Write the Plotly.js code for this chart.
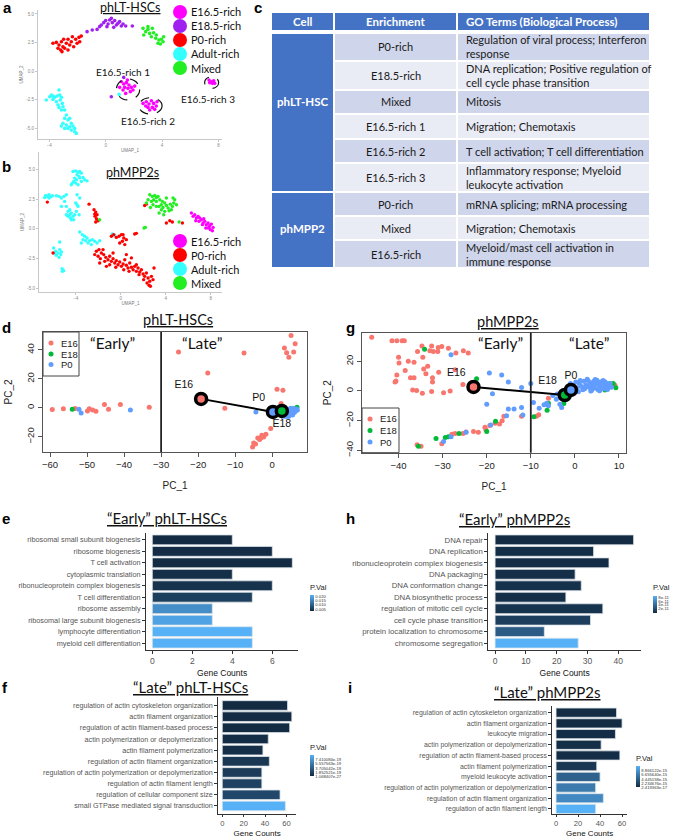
<!DOCTYPE html>
<html>
<head>
<meta charset="utf-8">
<script src="https://cdn.plot.ly/plotly-3.0.1.min.js"></script>
<style>html,body{margin:0;padding:0;background:#fff}#chart{width:685px;height:839px}</style>
</head>
<body>
<div id="chart"></div>
<script>
// ================= DATA =================
// --- a: UMAP phLT-HSCs ---
const umapLabelsA = ['E16.5-rich','E18.5-rich','P0-rich','Adult-rich','Mixed'];
const umapLabelsB = ['E16.5-rich','P0-rich','Adult-rich','Mixed'];
const aP0X = [-3.74,-3.50,-3.31,-3.14,-3.03,-3.19,-2.91,-2.79,-2.67,-2.55,-2.44,-2.36,-2.27,-2.13,-2.03,-1.89,-1.73,-1.84,-3.38,-2.98,-2.67,-3.10];
const aP0Y = [2.43,2.51,2.28,2.57,2.13,1.84,1.99,2.43,2.78,2.28,2.57,3.01,2.13,2.78,2.43,2.95,3.07,2.57,1.99,2.78,1.84,1.70];
const aE18X = [-1.32,-0.95,-0.61,-0.43,-0.31,-0.14,0.00,0.17,0.28,0.40,0.47,0.64,0.76,0.87,0.99,1.11,1.23,1.42,1.89,0.09,0.57,0.40,1.28];
const aE18Y = [3.45,3.60,3.65,3.89,4.04,4.24,4.42,4.12,4.47,4.62,4.24,4.42,4.04,4.18,4.33,3.95,4.12,3.95,3.95,3.89,3.83,-2.25,-0.56];
const aMixX = [2.65,2.84,3.00,2.70,3.12,3.24,3.40,3.55,3.59,3.78,3.71,3.95,4.07,3.88,4.11,3.00,3.31];
const aMixY = [3.74,3.45,3.65,3.16,3.30,3.01,3.36,2.87,3.16,2.72,2.43,2.78,2.57,2.37,3.01,3.89,3.74];
const aAdultX = [-4.21,-3.97,-3.85,-3.74,-3.62,-3.45,-3.31,-3.26,-3.14,-3.50,-3.38,-3.22,-3.07,-3.03,-3.14,-2.91,-2.79,-2.91,-2.67,-2.55,-3.03,-2.79,-2.44,-2.55,-2.32,-2.20,-2.67,-2.44,-2.20,-2.08,-3.14,-2.91,-3.74,-3.31,0.95];
const aAdultY = [-2.54,-2.25,-2.11,-2.49,-2.31,-2.19,-1.67,-2.11,-2.31,-2.69,-2.98,-2.54,-2.84,-3.13,-3.42,-3.42,-3.86,-4.15,-4.30,-4.15,-4.59,-4.74,-4.59,-4.88,-4.82,-5.03,-5.03,-5.18,-5.32,-5.47,-4.82,-5.03,-2.19,-3.19,-2.05];
const aE16X = [1.11,1.28,1.47,1.65,1.35,1.58,1.82,1.94,1.75,1.23,1.42,2.06,0.99,1.54,2.65,2.88,3.07,3.24,3.40,3.31,3.00,3.59,3.48,3.12,2.84,3.64,7.33,7.49,7.66,7.57,7.38,7.73];
const aE16Y = [-0.94,-1.14,-1.02,-1.23,-1.43,-1.52,-1.43,-1.67,-1.81,-1.67,-1.96,-1.32,-1.43,-0.79,-2.84,-2.69,-2.89,-2.60,-2.84,-3.19,-3.19,-3.07,-3.36,-3.42,-3.07,-2.69,-0.79,-0.94,-0.85,-1.08,-1.02,-1.08];
const aSubNames = ['E16.5-rich 1','E16.5-rich 2','E16.5-rich 3'];
const aSubBoxX0 = [0.76,2.36,7.02], aSubBoxX1 = [2.41,4.00,8.01];
const aSubBoxY0 = [-2.54,-3.77,-1.52], aSubBoxY1 = [-0.70,-2.34,-0.50];

// --- b: UMAP phMPP2s ---
const bAdultX = [-4.24,-4.00,-3.79,-3.64,-3.50,-3.88,-3.70,-4.09,-3.94,-4.18,-4.30,-3.64,-3.35,-3.20,-2.99,-4.39,-4.00,-3.50,-3.79,
 -6.67,-6.52,-6.37,-6.22,-6.07,-6.76,-6.37,-5.72,-5.48,-5.27,-5.04,-4.83,
 -4.83,-4.68,-4.53,-4.39,-4.24,-4.47,-4.68,-4.09,-3.94,-3.79,-4.00,-3.88,-3.70,-4.18,-4.39,-4.83,-4.53,-3.64,-3.88,-4.98,-5.27,
 -3.64,-3.41,-3.20,-2.99,-2.76,-2.52,-2.31,-2.10,-2.90,-3.35,-3.50,-1.87,-2.61,-3.11,-0.74,-0.53,
 -5.96,-5.78,-5.57,-5.42,-5.27,-5.72,-5.48,-5.33,-5.42,-5.87,-5.21,-5.07,-5.19];
const bAdultY = [4.82,4.87,4.76,4.82,4.68,4.54,4.40,4.26,4.12,3.98,3.84,4.26,4.31,4.12,4.03,3.70,3.84,3.98,3.70,
 2.80,2.72,2.86,2.69,2.77,2.63,2.58,2.77,2.72,2.58,2.72,2.86,
 1.88,1.46,1.18,1.32,1.04,0.90,1.04,1.18,1.46,1.88,2.16,2.02,1.18,0.76,0.76,1.18,1.60,2.58,2.86,2.30,1.88,
 -0.28,-0.50,-0.64,-0.78,-1.01,-0.92,-1.06,-1.20,-1.20,-0.92,-1.20,-1.01,-1.34,-1.01,-0.45,-0.56,
 -1.62,-1.90,-2.04,-1.76,-1.96,-2.24,-2.41,-2.18,-1.12,-2.04,-3.36,-3.53,-3.59];
const bP0X = [-6.52,-6.01,-2.37,-2.22,-2.10,-2.28,-2.16,-2.01,-2.22,-2.31,-2.81,-0.83,-0.62,-0.39,-0.15,0.06,0.27,0.15,-0.09,0.36,0.21,0.50,1.24,1.39,
 -2.16,-1.93,-1.72,-1.51,-2.01,-1.81,-1.33,-1.13,-1.42,-0.98,-0.83,-0.68,-0.53,-0.98,-0.39,-0.24,-0.09,0.06,-0.44,0.21,0.36,0.50,0.65,0.27,0.80,0.95,1.10,0.74,1.24,1.39,1.54,1.69,1.84,1.99,1.63,2.13,2.28,2.43,2.04,2.58,2.34,2.52,2.73,2.87,2.64,2.96,-1.87,-1.27,-0.68,0.50,0.95,1.39,-2.31,-1.57,
 2.13,2.28,4.06,4.59,5.48,4.36];
const bP0Y = [2.24,-2.04,1.60,1.40,1.18,1.04,0.84,0.67,0.56,1.23,2.07,-0.64,-0.50,-0.73,-0.64,-0.50,-0.78,-1.06,-1.20,-1.34,-0.50,-0.92,-0.45,-0.39,
 -1.90,-1.76,-2.04,-2.18,-2.32,-2.52,-2.41,-2.61,-2.75,-2.32,-2.75,-2.52,-2.89,-3.03,-2.69,-3.03,-2.80,-3.17,-3.25,-2.97,-2.61,-3.08,-3.31,-3.45,-2.89,-3.25,-3.45,-3.59,-3.17,-3.59,-3.31,-3.64,-3.45,-3.81,-3.87,-4.01,-3.73,-4.15,-4.29,-4.43,-4.57,-4.76,-4.01,-4.29,-4.85,-3.31,-2.89,-3.17,-2.04,-2.18,-2.46,-3.03,-2.18,-1.76,
 1.96,2.07,0.48,0.56,0.48,0.67];
const bMixX = [2.58,2.81,3.02,3.17,3.32,2.93,2.73,3.17,3.47,3.70,3.91,3.61,3.41,3.76,4.06,4.21,4.41,4.59,4.71,4.50,4.30,3.91,3.61,3.17,2.87,2.43,2.28,2.64,4.95,4.80,3.82,3.41,4.65,4.06,2.07,2.19,5.19,-1.87];
const bMixY = [2.86,2.72,2.80,2.63,2.72,2.44,2.30,2.30,2.44,2.30,2.16,2.02,1.88,1.79,1.96,1.74,2.07,1.88,2.16,1.60,1.51,1.46,1.60,1.88,2.02,2.44,2.16,1.79,2.02,2.44,1.18,1.32,2.58,2.58,0.06,0.11,0.56,0.76];
const bE16X = [6.28,6.43,6.58,6.73,6.87,6.67,6.96,7.17,7.32,7.47,7.61,7.76,7.91,8.06,8.21,7.97,7.85,7.56,7.26,7.02,7.38,7.76,8.15];
const bE16Y = [1.32,1.04,1.18,0.90,1.04,0.67,0.62,0.76,0.48,0.62,0.34,0.48,0.28,0.39,0.11,-0.08,0.11,0.06,0.34,0.90,0.84,0.06,-0.17];

// --- c: table ---
const tblHeader = ['Cell','Enrichment','GO Terms (Biological Process)'];
const tblCellGroups = ['phLT-HSC','phMPP2'];
const tblGroupSize = [6,3];
const tblEnrichment = ['P0-rich','E18.5-rich','Mixed','E16.5-rich 1','E16.5-rich 2','E16.5-rich 3','P0-rich','Mixed','E16.5-rich'];
const tblGO = ['Regulation of viral process; Interferon<br>response','DNA replication; Positive regulation of<br>cell cycle phase transition','Mitosis','Migration; Chemotaxis','T cell activation; T cell differentiation','Inflammatory response; Myeloid<br>leukocyte activation','mRNA splicing; mRNA processing','Migration; Chemotaxis','Myeloid/mast cell activation in<br>immune response'];

// --- d: PCA phLT-HSCs ---
const pcaGroups = ['E16','E18','P0'];
const dE16X = [-59.4,-56.4,-53.2,-49.9,-49.4,-48.5,-47.6,-45.3,-44.2,-41.0,-33.2,-25.3,-17.4,-7.6,-12.8,1.3,2.9,5.1,3.3,3.9,4.5,5.8,6.2,2.4,-0.4,-1.7,-3.1,-3.9,-3.4,-5.0,-5.3,-4.5,-2.3,-2.8,3.5,5.2];
const dE16Y = [-1.2,-0.7,-0.5,-2.1,-0.7,-1.4,-2.3,2.3,-0.9,2.3,0.5,38.6,24.0,37.9,-0.2,12.9,12.2,49.9,41.3,38.1,34.9,38.6,44.3,3.0,-14.3,-18.2,-20.8,-20.8,-21.9,-24.2,-27.0,-25.0,-20.1,-18.9,-1.5,-3.0];
const dE18X = [-54.0,6.7,4.5];
const dE18Y = [-0.9,0.5,-2.0];
const dP0X = [-52.2,-51.6,-38.3,-4.4,3.0,3.5,4.0,4.2,4.5,4.8,5.0,5.2,5.5,5.6,5.8,6.0,6.2,6.4,6.6,4.0,3.2,2.8,5.0,4.4,3.8,6.8,2.5,1.8,5.3,4.6,3.6,2.2];
const dP0Y = [-0.9,-3.5,-1.4,-2.8,-2.5,-3.5,-1.5,-4.5,-2.8,-0.8,-3.8,-1.9,-5.0,-2.5,-0.5,-3.2,-1.2,-2.0,-0.8,-5.5,-4.8,-5.8,-0.2,-6.0,-2.0,-1.5,-4.0,-4.5,-4.5,-5.2,-6.0,-3.2];
const dCentName = ['E16','P0','E18'];
const dCentX = [-19.2,0.2,2.6];
const dCentY = [6.2,-2.8,-2.1];
const dCut = -30;

// --- g: PCA phMPP2s ---
const gE16X = [-46.1,-41.5,-40.4,-39.2,-38.7,-40.0,-39.9,-37.8,-36.5,-38.5,-40.4,-40.6,-40.8,-37.3,-36.5,-36.8,-35.9,-34.6,-35.7,-34.7,-34.5,-33.4,-34.3,-33.8,-32.5,-32.1,-32.9,-31.0,-30.2,-31.1,-32.3,-32.3,-30.9,-32.5,-28.7,-28.3,-27.2,-27.0,-25.3,-24.2,-25.4,-29.8,
 -35.8,-34.9,-30.2,-27.9,-27.2,-25.4,-24.7,-23.0,-21.9,-20.4,-20.2,-19.3,-18.1,-17.1,-16.5,-16.1,-12.1,-8.7,-8.2,-6.0,-3.4,9.1,7.9];
const gE16Y = [36.2,33.8,33.8,33.8,33.8,22.7,18.9,20.0,19.3,13.8,10.7,6.7,6.0,8.9,8.9,0.7,0.4,-1.6,26.7,30.4,22.7,16.7,14.9,11.6,30.4,26.7,27.1,29.3,30.0,26.7,8.9,6.0,12.7,-0.4,28.9,0.0,14.4,25.6,27.1,25.6,4.4,-1.1,
 -36.2,-37.3,-35.6,-29.1,-28.7,-28.7,-27.6,-27.3,-27.8,-24.4,-26.2,-23.3,-21.8,-22.2,-20.0,-17.1,-17.1,-17.1,-16.0,-4.9,-2.9,3.8,3.8];
const gE18X = [-34.1,-22.3,-35.5,-29.4,-28.7,-26.3,-20.0,-18.0,-9.3,-6.3,-6.0,-2.5,9.3,6.8,7.9,8.7,-31.5];
const gE18Y = [28.2,8.2,-37.3,-31.3,-30.9,-28.7,-27.3,-20.4,-17.3,-12.9,-8.2,-8.4,2.2,0.7,5.1,5.1,-32.0];
const gP0X = [-28.1,-19.4,-16.6,-18.7,-15.1,-12.1,-10.0,-20.0,-22.6,-29.8,-28.1,-24.7,-19.1,-15.5,-15.1,-13.8,-12.1,-11.8,-9.4,-8.1,-7.0,-6.4,-6.0,-4.2,-3.4,-3.0,
 1.0,1.5,2.0,2.2,2.5,3.0,3.2,3.5,3.8,4.0,4.3,4.5,4.8,5.0,5.2,5.5,5.8,6.0,6.2,6.5,6.8,7.0,7.2,7.5,7.8,8.0,8.3,0.5,1.2,2.8,3.6,4.6,5.6,6.4,0.2,1.8,2.6,3.4,4.2,5.2,6.0,6.8,7.4,-0.5,-1.0,0.8,-1.5,-3.0,-4.0,-5.0];
const gP0Y = [24.4,12.2,10.7,-1.8,6.0,2.4,5.1,-8.9,1.1,-34.0,-30.9,-27.8,-22.9,-16.7,-12.2,-12.2,-11.1,-16.2,-7.8,-11.6,-9.3,-8.2,-10.0,-5.6,-8.9,-11.1,
 5.0,3.0,6.5,1.5,4.0,7.0,2.5,5.5,0.5,3.5,6.5,2.0,4.8,7.2,1.0,3.8,6.0,2.5,4.5,1.5,3.5,5.5,2.2,4.0,3.0,5.0,2.5,2.0,7.0,8.0,0.0,7.8,0.2,7.0,6.0,0.8,3.0,4.2,5.0,5.8,4.0,6.2,1.0,3.5,5.0,-0.5,-1.0,-1.0,-2.0,-3.0];
const gCentName = ['E16','E18','P0'];
const gCentX = [-23.0,-2.3,-0.9];
const gCentY = [2.7,-2.7,0.7];
const gCut = -10;

// --- e/h/f/i: GO bar charts ---
const eTerms = ['ribosomal small subunit biogenesis','ribosome biogenesis','T cell activation','cytoplasmic translation','ribonucleoprotein complex biogenesis','T cell differentiation','ribosome assembly','ribosomal large subunit biogenesis','lymphocyte differentiation','myeloid cell differentiation'];
const eCounts = [4,6,7,4,6,5,3,3,5,5];
const ePval = [0.0030,0.0032,0.0031,0.0035,0.0040,0.0058,0.0165,0.0195,0.0215,0.0215];
const eTicks = [0.005,0.010,0.015,0.020];
const eTickText = ['0.005','0.010','0.015','0.020'];

const hTerms = ['DNA repair','DNA replication','ribonucleoprotein complex biogenesis','DNA packaging','DNA conformation change','DNA biosynthetic process','regulation of mitotic cell cycle','cell cycle phase transition','protein localization to chromosome','chromosome segregation'];
const hCounts = [45,32,37,26,28,23,35,31,16,27];
const hPval = [1e-13,2e-12,1e-12,3e-12,4e-12,3e-12,6e-12,1.3e-11,3.3e-11,9e-11];
const hTicks = [2e-11,4e-11,6e-11,8e-11];
const hTickText = ['2e-11','4e-11','6e-11','8e-11'];

const fTerms = ['regulation of actin cytoskeleton organization','actin filament organization','regulation of actin filament-based process','actin polymerization or depolymerization','actin filament polymerization','regulation of actin filament organization','regulation of actin polymerization or depolymerization','regulation of actin filament length','regulation of cellular component size','small GTPase mediated signal transduction'];
const fCounts = [61,65,63,43,38,44,37,37,54,59];
const fPval = [1.068407e-27,2e-24,5e-23,1.5e-20,3e-20,9e-20,1.1e-19,1.6e-19,2.0e-19,9.262605e-19];
const fTicks = [1.068407e-27,1.852521e-19,3.705042e-19,5.557563e-19,7.410084e-19];
const fTickText = ['1.068407e-27','1.852521e-19','3.705042e-19','5.557563e-19','7.410084e-19'];

const iTerms = ['regulation of actin cytoskeleton organization','actin filament organization','leukocyte migration','actin polymerization or depolymerization','regulation of actin filament-based process','actin filament polymerization','myeloid leukocyte activation','regulation of actin polymerization or depolymerization','regulation of actin filament organization','regulation of actin filament length'];
const iCounts = [55,60,54,41,58,37,40,36,43,36];
const iPval = [2.419363e-17,1e-16,2e-16,3e-16,2.5e-16,1.0e-15,4.5e-15,6.5e-15,7.8e-15,1.1077e-14];
const iTicks = [2.419363e-17,2.234676e-15,4.445158e-15,6.655640e-15,8.866122e-15];
const iTickText = ['2.419363e-17','2.234676e-15','4.445158e-15','6.655640e-15','8.866122e-15'];

// ================= STYLE / LAYOUT =================
const W = 685, H = 839;
const X = p => p / W, Y = p => 1 - p / H;
const FR = 'Liberation Sans, Arial, sans-serif';
const FT = 'Lato, Open Sans, sans-serif';
const umapColor = {'E16.5-rich':'#FF00FF','E18.5-rich':'#A020F0','P0-rich':'#FF0000','Adult-rich':'#33FFFF','Mixed':'#22EE22'};
const pcaColor = {E16:'#F8766D', E18:'#00BA38', P0:'#619CFF'};
const gradient = [[0,'#132B43'],[1,'#56B1F7']];

const data = [];
function pts(x, y, color, xa, ya, size) {
  return {type:'scatter', mode:'markers', x, y, xaxis:xa, yaxis:ya, showlegend:false, hoverinfo:'skip',
          marker:{color, size, line:{width:0}}};
}
// a
data.push(pts(aP0X, aP0Y, umapColor['P0-rich'], 'x', 'y', 3.6));
data.push(pts(aE18X, aE18Y, umapColor['E18.5-rich'], 'x', 'y', 3.6));
data.push(pts(aMixX, aMixY, umapColor['Mixed'], 'x', 'y', 3.6));
data.push(pts(aAdultX, aAdultY, umapColor['Adult-rich'], 'x', 'y', 3.6));
data.push(pts(aE16X, aE16Y, umapColor['E16.5-rich'], 'x', 'y', 3.6));
// b
data.push(pts(bAdultX, bAdultY, umapColor['Adult-rich'], 'x2', 'y2', 3.4));
data.push(pts(bP0X, bP0Y, umapColor['P0-rich'], 'x2', 'y2', 3.4));
data.push(pts(bMixX, bMixY, umapColor['Mixed'], 'x2', 'y2', 3.4));
data.push(pts(bE16X, bE16Y, umapColor['E16.5-rich'], 'x2', 'y2', 3.4));
// d
data.push(pts(dE16X, dE16Y, pcaColor.E16, 'x3', 'y3', 5));
data.push(pts(dE18X, dE18Y, pcaColor.E18, 'x3', 'y3', 5));
data.push(pts(dP0X, dP0Y, pcaColor.P0, 'x3', 'y3', 5));
data.push({type:'scatter', mode:'lines+markers+text', x:dCentX, y:dCentY, text:dCentName, xaxis:'x3', yaxis:'y3',
  textposition:['top left','top left','bottom center'], textfont:{family:FR, size:10.5, color:'#111'},
  line:{color:'#000', width:2}, marker:{size:11, color:dCentName.map(n => pcaColor[n]), line:{color:'#000', width:3.5}},
  showlegend:false, hoverinfo:'skip', cliponaxis:false});
// g
data.push(pts(gE16X, gE16Y, pcaColor.E16, 'x4', 'y4', 5));
data.push(pts(gE18X, gE18Y, pcaColor.E18, 'x4', 'y4', 5));
data.push(pts(gP0X, gP0Y, pcaColor.P0, 'x4', 'y4', 5));
data.push({type:'scatter', mode:'lines+markers+text', x:gCentX, y:gCentY, text:gCentName, xaxis:'x4', yaxis:'y4',
  textposition:['top left','top left','top center'], textfont:{family:FR, size:10.5, color:'#111'},
  line:{color:'#000', width:2}, marker:{size:11, color:gCentName.map(n => pcaColor[n]), line:{color:'#000', width:3.5}},
  showlegend:false, hoverinfo:'skip', cliponaxis:false});

// bars
function bars(terms, counts, pv, xa, ya, ticks, ticktext, cbx, cby, cblen) {
  return {type:'bar', orientation:'h', x:counts, y:terms, xaxis:xa, yaxis:ya, width:0.86, showlegend:false, hoverinfo:'skip',
    marker:{color:pv, colorscale:gradient, cmin:Math.min(...pv), cmax:Math.max(...pv), line:{color:'#dde4ea', width:0.8},
      showscale:true,
      colorbar:{x:cbx, xanchor:'left', y:cby, yanchor:'middle', len:cblen, lenmode:'pixels', thickness:3.5, thicknessmode:'pixels',
        xpad:0, ypad:0, outlinewidth:0, ticks:'', ticklabelstandoff:1, tickvals:ticks, ticktext:ticktext, tickfont:{size:4.2, color:'#333'},
        title:{text:'P.Val', side:'top', font:{size:7.5, color:'#222'}}}}};
}
data.push(bars(eTerms, eCounts, ePval, 'x5', 'y5', eTicks, eTickText, X(310), Y(596), 30));
data.push(bars(hTerms, hCounts, hPval, 'x6', 'y6', hTicks, hTickText, X(653), Y(597), 31));
data.push(bars(fTerms, fCounts, fPval, 'x7', 'y7', fTicks, fTickText, X(310), Y(759), 35));
data.push(bars(iTerms, iCounts, iPval, 'x8', 'y8', iTicks, iTickText, X(636), Y(770), 35));

// ---- axes ----
function umapX(domain, anchor, range) {
  return {domain, anchor, range, tickvals:[-4,0,4,8], showline:true, linecolor:'#c8c8c8', linewidth:1, ticks:'outside', ticklen:2,
    tickcolor:'#c8c8c8', tickfont:{size:4.5, color:'#8a8a8a'}, showgrid:false, zeroline:false,
    title:{text:'UMAP_1', font:{size:4.5, color:'#777'}, standoff:1}};
}
function umapY(domain, anchor, range) {
  return {domain, anchor, range, tickvals:[-5,-2.5,0,2.5,5], ticktext:['-5.0','-2.5','0.0','2.5','5.0'], showline:true, linecolor:'#c8c8c8',
    linewidth:1, ticks:'outside', ticklen:2, tickcolor:'#c8c8c8', tickfont:{size:4.5, color:'#8a8a8a'}, showgrid:false, zeroline:false,
    title:{text:'UMAP_2', font:{size:4.5, color:'#777'}, standoff:2}};
}
function pcaX(domain, anchor, range, tickvals) {
  return {domain, anchor, range, tickvals, showline:true, mirror:true, linecolor:'#555', linewidth:1, ticks:'outside', ticklen:4,
    tickcolor:'#555', tickfont:{size:9.5, color:'#222'}, showgrid:false, zeroline:false,
    title:{text:'PC_1', font:{size:10, color:'#222'}, standoff:12}};
}
function pcaY(domain, anchor, range, tickvals) {
  return {domain, anchor, range, tickvals, showline:true, mirror:true, linecolor:'#555', linewidth:1, ticks:'outside', ticklen:4,
    tickcolor:'#555', tickangle:-90, tickfont:{size:9.5, color:'#222'}, showgrid:false, zeroline:false,
    title:{text:'PC_2', font:{size:10, color:'#222'}, standoff:10}};
}
function barX(domain, anchor, range, tickvals, tfs, ttfs, tlen, stand) {
  return {domain, anchor, range, tickvals, showline:true, linecolor:'#333', linewidth:1, ticks:'outside', ticklen:tlen, tickcolor:'#333',
    tickfont:{size:tfs, color:'#555'}, showgrid:false, zeroline:false,
    title:{text:'Gene Counts', font:{size:ttfs, color:'#111'}, standoff:stand}};
}
function barY(domain, anchor, cats, range, fs) {
  return {domain, anchor, type:'category', categoryorder:'array', categoryarray:cats, range, showline:true, linecolor:'#333', linewidth:1,
    ticks:'outside', ticklen:3, tickcolor:'#333', tickfont:{size:fs, color:'#555'}, showgrid:false, zeroline:false};
}

const layout = {
  width:W, height:H, margin:{l:0, r:0, t:0, b:0}, paper_bgcolor:'#fff', plot_bgcolor:'rgba(0,0,0,0)', showlegend:false,
  font:{family:FR, size:10, color:'#000'},
  xaxis: umapX([X(38), X(222)], 'y', [-4.80, 8.25]),
  yaxis: umapY([Y(139), Y(10)], 'x', [-5.96, 5.35]),
  xaxis2: umapX([X(39), X(222)], 'y2', [-7.26, 9.0]),
  yaxis2: umapY([Y(292), Y(152)], 'x2', [-5.33, 6.46]),
  xaxis3: pcaX([X(43), X(307)], 'y3', [-61.9, 9.4], [-60,-50,-40,-30,-20,-10,0]),
  yaxis3: pcaY([Y(452), Y(332)], 'x3', [-30.5, 52.4], [-20,0,20,40]),
  xaxis4: pcaX([X(362), X(626)], 'y4', [-48.3, 11.6], [-40,-30,-20,-10,0,10]),
  yaxis4: pcaY([Y(452.7), Y(332.7)], 'x4', [-41.6, 39.3], [-40,-20,0,20]),
  xaxis5: barX([X(146), X(298.3)], 'y5', [-0.315, 7.3], [0,2,4,6], 8.5, 8.5, 3, 4),
  yaxis5: barY([Y(650), Y(533)], 'x5', eTerms, [9.6, -0.6], 7.3),
  xaxis6: barX([X(488.3), X(641)], 'y6', [-2.2, 47.4], [0,10,20,30,40], 8.5, 8.5, 3, 4),
  yaxis6: barY([Y(650), Y(533)], 'x6', hTerms, [9.6, -0.6], 7.8),
  xaxis7: barX([X(218.3), X(296)], 'y7', [-3.7, 68.9], [0,20,40,60], 7.6, 8, 2, 3),
  yaxis7: barY([Y(814), Y(697)], 'x7', fTerms, [9.72, -0.76], 7.2),
  xaxis8: barX([X(552.3), X(627)], 'y8', [-3.4, 64.5], [0,20,40,60], 7.6, 8, 2, 3),
  yaxis8: barY([Y(814), Y(705.7)], 'x8', iTerms, [9.47, -0.65], 6.9),
  xaxis9: {domain:[X(271), X(650)], anchor:'y9', range:[0,379], visible:false, fixedrange:true},
  yaxis9: {domain:[Y(268), Y(12)], anchor:'x9', range:[256,0], visible:false, fixedrange:true},
  shapes: [], annotations: []
};
const S = layout.shapes, A = layout.annotations;
function ann(text, px, py, font, extra) {
  return Object.assign({text, x:X(px), y:Y(py), xref:'paper', yref:'paper', showarrow:false, xanchor:'center', yanchor:'middle', font}, extra || {});
}

// UMAP sub-cluster dashed outlines + labels
const subLabelPos = [[123,72],[148,121],[208,99]];
aSubNames.forEach((n, k) => {
  S.push({type:'circle', xref:'x', yref:'y', x0:aSubBoxX0[k], x1:aSubBoxX1[k], y0:aSubBoxY0[k], y1:aSubBoxY1[k],
          line:{color:'#111', width:1.2, dash:'dash'}});
  A.push(ann(n, subLabelPos[k][0], subLabelPos[k][1], {family:FT, size:10, color:'#111'}));
});
// UMAP legends
const legA_Y = [12,26,40,54,68];
umapLabelsA.forEach((n, k) => {
  S.push({type:'circle', xref:'paper', yref:'paper', xsizemode:'pixel', ysizemode:'pixel', xanchor:X(180), yanchor:Y(legA_Y[k]),
          x0:-7, x1:7, y0:-7, y1:7, fillcolor:umapColor[n], line:{width:0}});
  A.push(ann(n, 189, legA_Y[k], {family:FT, size:11, color:'#111'}, {xanchor:'left'}));
});
const legB_Y = [241,255,269,283];
umapLabelsB.forEach((n, k) => {
  S.push({type:'circle', xref:'paper', yref:'paper', xsizemode:'pixel', ysizemode:'pixel', xanchor:X(180), yanchor:Y(legB_Y[k]),
          x0:-7, x1:7, y0:-7, y1:7, fillcolor:umapColor[n], line:{width:0}});
  A.push(ann(n, 189, legB_Y[k], {family:FT, size:11, color:'#111'}, {xanchor:'left'}));
});
// PCA legends
function pcaLegend(bx0, by0, bx1, by1, dotX, rowsY) {
  S.push({type:'rect', xref:'paper', yref:'paper', x0:X(bx0), x1:X(bx1), y0:Y(by1), y1:Y(by0), fillcolor:'#fff', line:{color:'#444', width:1}});
  pcaGroups.forEach((g, k) => {
    S.push({type:'circle', xref:'paper', yref:'paper', xsizemode:'pixel', ysizemode:'pixel', xanchor:X(dotX), yanchor:Y(rowsY[k]),
            x0:-2.5, x1:2.5, y0:-2.5, y1:2.5, fillcolor:pcaColor[g], line:{width:0}});
    A.push(ann(g, dotX + 8, rowsY[k], {family:FR, size:9.5, color:'#222'}, {xanchor:'left'}));
  });
}
pcaLegend(43, 332, 79, 376, 51, [343, 354, 364.5]);
pcaLegend(362, 408, 399, 452.7, 370, [419, 430.5, 442]);
// Early / Late cut lines
[[dCut,'x3','y3'],[gCut,'x4','y4']].forEach(([c, xa, ya]) => {
  S.push({type:'line', xref:xa, yref:ya + ' domain', x0:c, x1:c, y0:0, y1:1, line:{color:'#222', width:1.8}});
});
const earlyLateFont = {family:FT, size:15.5, color:'#111'};
A.push(ann('\u201CEarly\u201D', 112, 343, earlyLateFont));
A.push(ann('\u201CLate\u201D', 202, 343, earlyLateFont));
A.push(ann('\u201CEarly\u201D', 500, 343, earlyLateFont));
A.push(ann('\u201CLate\u201D', 589, 343, earlyLateFont));

// Titles
A.push(ann('<u>phLT-HSCs</u>', 130, 8, {family:FT, size:12.5, color:'#111'}));
A.push(ann('<u>phMPP2s</u>', 132, 173, {family:FT, size:12.5, color:'#111'}));
A.push(ann('<u>phLT-HSCs</u>', 178, 320, {family:FT, size:14.5, color:'#111'}));
A.push(ann('<u>phMPP2s</u>', 508, 322, {family:FT, size:14.5, color:'#111'}));
A.push(ann('<u>\u201CEarly\u201D phLT-HSCs</u>', 167, 518, {family:FT, size:15, color:'#111'}));
A.push(ann('<u>\u201CEarly\u201D phMPP2s</u>', 514, 519, {family:FT, size:15, color:'#111'}));
A.push(ann('<u>\u201CLate\u201D phLT-HSCs</u>', 190, 687, {family:FT, size:15, color:'#111'}));
A.push(ann('<u>\u201CLate\u201D phMPP2s</u>', 547, 692, {family:FT, size:15, color:'#111'}));

// Panel letters
const letterFont = {family:FR, size:15, color:'#000'};
[['a',7,8],['b',6,167],['c',258,8],['d',6,327],['g',350,327],['e',6,518],['h',350,518],['f',5,687],['i',350,687]].forEach(([t,x,y]) => {
  A.push(ann('<b>' + t + '</b>', x, y, letterFont));
});

// ---- table (c) on hidden axis x9/y9 ----
const tblColW = [63,123,193];
const tblHeadH = 19, tblHeadGap = 2;
const tblRowH = [28,29,24,25,24,29,24,24,28];
const BLUE = '#4472C4', ROW_DARK = '#CFD5EA', ROW_LIGHT = '#E9EBF5';
const colEdge = [0]; tblColW.forEach(w => colEdge.push(colEdge[colEdge.length-1] + w));
function cellRect(x0, x1, y0, y1, fill) {
  S.push({type:'rect', xref:'x9', yref:'y9', x0:x0+1, x1:x1-1, y0:y0+1, y1:y1-1, fillcolor:fill, line:{width:0}, layer:'below'});
}
function cellText(text, x, y, font, anchor) {
  A.push({text, x, y, xref:'x9', yref:'y9', showarrow:false, xanchor:anchor, yanchor:'middle', align:'left', font});
}
const hdrFont = {family:FT, size:11.5, color:'#fff', weight:700};
tblHeader.forEach((h, c) => {
  cellRect(colEdge[c], colEdge[c+1], 0, tblHeadH, BLUE);
  if (c < 2) cellText('<b>' + h + '</b>', (colEdge[c] + colEdge[c+1]) / 2, tblHeadH / 2, hdrFont, 'center');
  else cellText('<b>' + h + '</b>', colEdge[c] + 7, tblHeadH / 2, hdrFont, 'left');
});
const rowTop = [tblHeadH + tblHeadGap];
tblRowH.forEach(h => rowTop.push(rowTop[rowTop.length-1] + h));
const bodyFont = {family:FT, size:11, color:'#1a1a1a'};
tblEnrichment.forEach((en, r) => {
  const fill = r % 2 === 0 ? ROW_DARK : ROW_LIGHT;
  const y0 = rowTop[r], y1 = rowTop[r+1], ym = (y0 + y1) / 2;
  cellRect(colEdge[1], colEdge[2], y0, y1, fill);
  cellRect(colEdge[2], colEdge[3], y0, y1, fill);
  cellText(en, (colEdge[1] + colEdge[2]) / 2, ym, bodyFont, 'center');
  cellText(tblGO[r], colEdge[2] + 7, ym, bodyFont, 'left');
});
let g0 = 0;
tblCellGroups.forEach((g, k) => {
  const r0 = g0, r1 = g0 + tblGroupSize[k];
  cellRect(colEdge[0], colEdge[1], rowTop[r0], rowTop[r1], BLUE);
  const mid = r0 + Math.floor((tblGroupSize[k] - 1) / 2);
  cellText('<b>' + g + '</b>', (colEdge[0] + colEdge[1]) / 2, (rowTop[mid] + rowTop[mid+1]) / 2, {family:FT, size:11.5, color:'#fff'}, 'center');
  g0 = r1;
});

Plotly.newPlot('chart', data, layout, {staticPlot:true, displayModeBar:false});
</script>
</body>
</html>
